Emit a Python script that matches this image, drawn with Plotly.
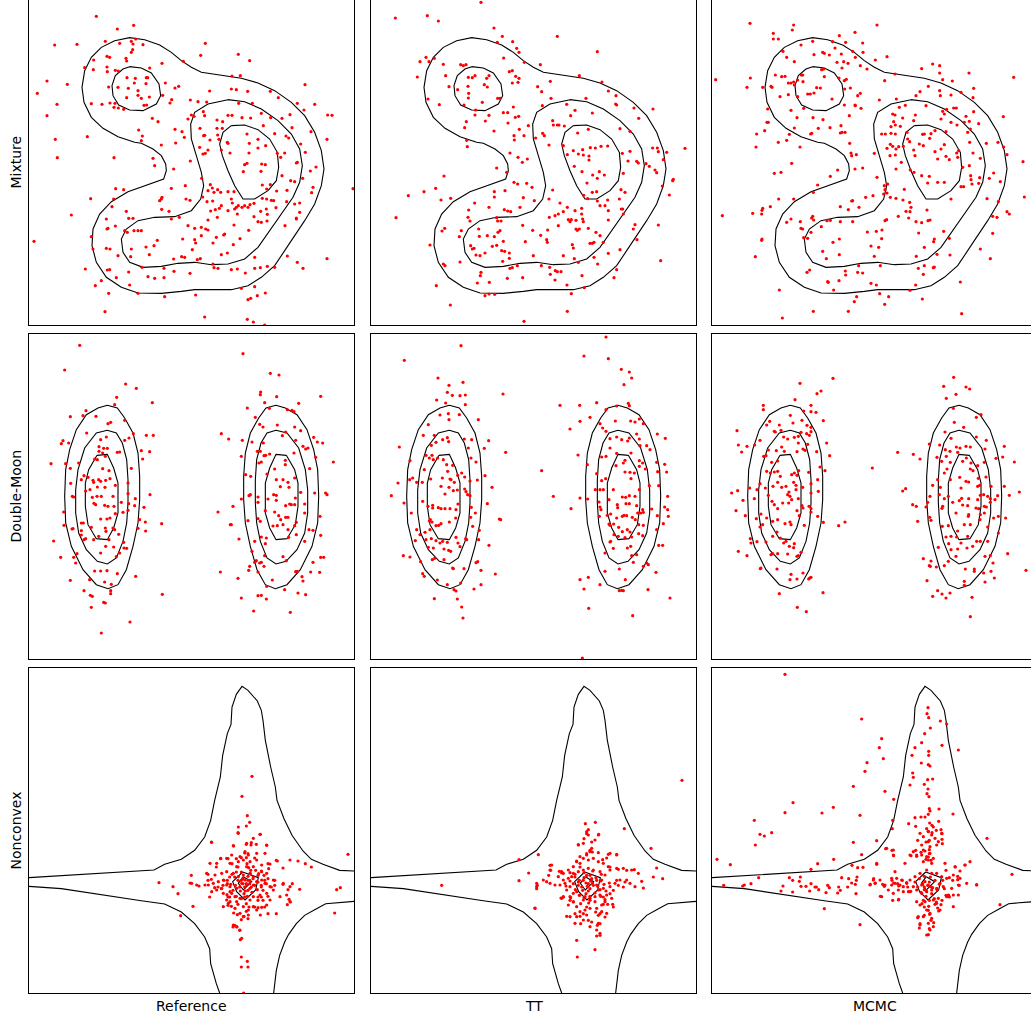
import plotly.graph_objects as go

# ---------------- data (panel units: 0..978, y downward) ----------------
ROW_LABELS = ["Mixture", "Double-Moon", "Nonconvex"]
COL_LABELS = ["Reference", "TT", "MCMC"]

# reference density contours
MIX_CONTOURS = [
    [(320,430),(270,413),(225,388),(190,355),(168,310),(162,265),(170,215),(190,175),(220,145),(260,125),(305,116),(350,122),(395,138),(430,160),(460,185),(490,205),(520,220),(580,228),(640,238),(690,252),(740,275),(790,310),(830,350),(860,400),(880,455),(888,510),(880,560),(860,615),(830,665),(780,740),(740,800),(700,835),(660,860),(610,872),(560,873),(500,872),(460,877),(400,883),(330,882),(280,865),(235,835),(205,790),(192,740),(195,690),(215,645),(250,608),(300,578),(350,560),(407,540),(415,515),(413,495),(400,470),(375,450),(340,433),(320,430)],
    [(600,302),(650,308),(700,330),(750,365),(790,405),(815,450),(823,500),(815,550),(795,595),(760,645),(720,705),(690,745),(650,780),(600,795),(550,797),(500,790),(450,793),(400,802),(345,805),(305,790),(285,760),(280,720),(295,690),(330,665),(380,655),(440,653),(490,635),(518,600),(527,560),(520,520),(505,470),(490,420),(488,375),(500,340),(540,315),(600,302)],
    [(610,380),(650,378),(690,392),(725,420),(748,460),(752,505),(745,545),(720,575),(680,600),(645,600),(620,560),(600,515),(583,470),(575,435),(585,400),(610,380)],
    [(305,203),(340,207),(370,222),(393,255),(398,290),(385,315),(345,335),(305,333),(272,318),(255,290),(252,260),(262,230),(285,210),(305,203)],
]
DM_CONTOURS = [
    [(238,217),(268,225),(290,255),(315,300),(330,360),(335,430),(335,500),(330,570),(315,640),(295,710),(270,755),(240,767),(205,755),(165,710),(130,640),(113,570),(110,490),(113,410),(125,350),(145,290),(175,245),(210,225),(238,217)],
    [(238,292),(265,300),(283,330),(296,380),(300,440),(300,510),(296,570),(285,625),(265,675),(238,693),(208,685),(175,650),(152,600),(143,540),(143,470),(150,410),(170,345),(205,300),(238,292)],
    [(207,367),(238,364),(257,405),(270,450),(270,540),(257,585),(238,620),(205,617),(180,575),(172,520),(172,450),(182,410),(207,367)],
    [(744,217),(714,225),(692,255),(667,300),(652,360),(647,430),(647,500),(652,570),(667,640),(687,710),(712,755),(742,767),(777,755),(817,710),(852,640),(869,570),(872,490),(869,410),(857,350),(837,290),(807,245),(772,225),(744,217)],
    [(744,292),(717,300),(699,330),(686,380),(682,440),(682,510),(686,570),(697,625),(717,675),(744,693),(774,685),(807,650),(830,600),(839,540),(839,470),(832,410),(812,345),(777,300),(744,292)],
    [(775,367),(744,364),(725,405),(712,450),(712,540),(725,585),(744,620),(777,617),(802,575),(810,520),(810,450),(800,410),(775,367)],
]
NC_CONTOURS = [
    [(3,632),(100,626),(200,620),(300,614),(378,609),(410,592),(460,577),(500,550),(530,510),(548,460),(560,400),(577,330),(584,265),(598,200),(609,172),(612,120),(625,82),(642,58),(660,70),(688,102),(700,130),(705,160),(712,220),(728,300),(742,360),(747,400),(768,455),(792,505),(825,552),(850,577),(885,592),(935,610),(978,612)],
    [(978,703),(935,706),(893,710),(860,728),(830,745),(805,770),(782,802),(770,825),(755,865),(745,910),(740,950),(737,978)],
    [(575,978),(565,950),(548,890),(545,845),(530,810),(500,770),(460,735),(410,711),(340,701),(280,692),(200,678),(100,665),(3,658)],
    [(644,615),(691,632),(683,669),(651,699),(626,674),(614,644),(644,615)],
    [(646,629),(671,644),(646,669),(631,649),(646,629)],
]

# samples
MIX_REF = [(205,52),(317,79),(268,90),(80,138),(147,136),(232,127),(275,133),(310,127),(323,120),(315,135),(345,137),(532,133),(518,169),(631,166),(665,185),(466,187),(314,152),(310,160),(294,178),(296,186),(237,172),(245,175),(197,183),(170,206),(196,212),(237,204),(238,218),(262,214),(271,216),(402,193),(365,207),(57,246),(118,256),(28,283),(87,316),(57,350),(190,314),(222,316),(246,312),(261,313),(258,325),(271,327),(287,331),(242,264),(270,265),(297,236),(322,238),(301,268),(319,252),(330,275),(330,289),(340,298),(355,236),(359,236),(354,254),(364,294),(296,296),(348,319),(356,318),(404,289),(412,252),(441,267),(452,262),(431,302),(426,312),(545,276),(610,270),(625,272),(659,277),(612,231),(637,230),(727,277),(751,296),(831,257),(860,316),(899,348),(912,349),(808,313),(828,333),(786,347),(762,358),(487,303),(510,308),(536,309),(632,313),(673,313),(700,343),(728,356),(490,348),(498,352),(480,360),(526,338),(530,350),(567,363),(584,368),(600,349),(612,349),(642,356),(668,357),(583,388),(567,388),(373,358),(390,368),(332,393),(343,411),(340,425),(441,391),(462,398),(443,432),(469,415),(516,388),(530,409),(546,423),(527,410),(569,408),(573,421),(598,430),(600,433),(657,405),(664,433),(690,421),(713,440),(706,380),(740,404),(782,417),(774,411),(792,386),(849,398),(897,421),(818,435),(832,460),(808,490),(805,492),(847,516),(864,504),(82,421),(178,413),(88,476),(258,476),(375,478),(380,500),(400,438),(437,510),(487,486),(515,445),(525,465),(532,463),(540,453),(580,453),(606,462),(663,462),(690,447),(748,463),(770,462),(758,475),(650,497),(657,493),(646,518),(701,495),(712,497),(699,517),(762,530),(788,545),(800,548),(824,538),(855,565),(851,581),(777,574),(746,576),(727,557),(716,570),(703,558),(975,569),(472,560),(521,538),(547,557),(553,567),(540,575),(558,580),(569,572),(578,580),(600,578),(618,578),(430,568),(263,569),(287,572),(188,599),(257,600),(400,600),(402,595),(395,605),(474,600),(486,604),(524,594),(537,608),(554,606),(610,600),(613,612),(631,620),(650,620),(666,617),(660,625),(678,613),(703,598),(716,600),(730,604),(737,605),(776,608),(800,615),(815,612),(130,648),(252,623),(295,637),(401,631),(423,637),(548,636),(562,632),(574,628),(580,620),(600,635),(620,630),(625,625),(642,625),(628,645),(698,637),(715,630),(744,626),(815,640),(805,657),(805,660),(235,660),(302,658),(315,658),(430,660),(454,655),(540,663),(568,655),(678,653),(718,646),(690,668),(700,670),(717,666),(771,680),(262,681),(237,690),(240,688),(290,695),(318,695),(330,695),(340,695),(298,700),(480,680),(500,688),(520,685),(533,690),(540,693),(618,678),(662,694),(190,713),(18,727),(388,724),(354,744),(310,750),(378,740),(464,720),(500,722),(503,732),(520,710),(555,732),(565,715),(590,705),(616,737),(636,719),(587,708),(493,752),(235,748),(246,750),(195,750),(270,770),(308,773),(364,767),(437,780),(461,773),(470,775),(508,782),(517,779),(580,767),(598,762),(680,775),(778,771),(897,779),(172,810),(238,813),(245,812),(302,819),(342,805),(408,808),(438,817),(486,823),(555,795),(558,806),(570,808),(610,812),(628,810),(652,822),(680,808),(697,806),(718,802),(740,805),(808,790),(825,808),(265,836),(305,858),(220,845),(202,860),(242,883),(330,883),(360,833),(380,838),(408,836),(410,893),(503,888),(640,868),(680,863),(712,882),(688,890),(660,902),(668,898),(231,938),(530,954),(658,961),(676,969),(710,978)]

MIX_TT = [(333,10),(76,57),(172,50),(205,66),(372,87),(397,112),(428,128),(440,148),(447,160),(382,130),(562,112),(682,158),(401,177),(150,188),(168,175),(177,188),(193,178),(220,196),(272,197),(280,200),(288,197),(142,234),(227,230),(237,263),(263,272),(295,235),(307,236),(315,230),(294,262),(296,283),(295,297),(350,238),(357,230),(343,257),(352,264),(337,310),(383,298),(390,298),(418,218),(427,215),(437,232),(447,238),(427,252),(444,250),(463,190),(511,197),(503,263),(515,278),(541,247),(543,298),(628,230),(696,249),(715,276),(738,290),(737,315),(174,300),(208,317),(282,318),(289,368),(284,386),(315,348),(317,333),(357,349),(346,366),(400,341),(413,341),(430,324),(436,355),(446,352),(414,372),(372,396),(432,410),(462,410),(433,423),(448,391),(475,380),(517,320),(497,417),(518,403),(523,410),(537,438),(548,365),(550,378),(562,378),(567,378),(583,381),(602,350),(590,316),(615,334),(648,298),(667,342),(655,391),(623,402),(740,318),(792,327),(806,358),(849,330),(750,389),(780,397),(580,440),(592,467),(610,455),(625,465),(638,452),(640,468),(657,471),(657,483),(661,446),(676,447),(693,442),(713,441),(757,463),(780,457),(774,486),(800,487),(805,492),(828,494),(838,502),(855,513),(860,521),(848,447),(862,447),(865,458),(890,460),(880,482),(945,448),(290,424),(292,443),(420,462),(444,475),(457,490),(472,480),(380,507),(410,520),(222,531),(613,502),(636,518),(668,528),(688,518),(703,528),(682,538),(651,552),(667,580),(680,578),(641,589),(653,599),(682,606),(713,603),(760,523),(753,572),(765,580),(748,600),(910,541),(908,545),(877,561),(898,588),(115,590),(162,578),(197,568),(213,603),(242,598),(432,550),(443,555),(470,553),(486,565),(548,573),(373,578),(405,575),(373,594),(460,596),(493,605),(537,600),(570,612),(296,633),(314,612),(357,625),(403,632),(413,636),(422,638),(450,625),(580,638),(565,645),(592,625),(615,635),(635,628),(690,620),(705,620),(715,635),(754,630),(758,630),(78,656),(294,655),(300,666),(380,656),(383,666),(393,666),(538,655),(555,650),(595,662),(604,662),(618,664),(635,645),(640,668),(638,660),(715,663),(760,645),(216,696),(224,688),(274,695),(268,713),(326,690),(328,712),(352,710),(373,713),(390,695),(384,700),(458,679),(488,694),(512,709),(533,693),(565,680),(600,668),(618,690),(622,694),(628,690),(655,688),(678,700),(690,710),(795,677),(790,690),(865,678),(180,738),(302,740),(307,750),(312,748),(318,768),(330,770),(345,762),(367,742),(380,739),(400,727),(395,755),(404,757),(418,762),(466,728),(530,722),(532,730),(607,737),(610,747),(660,733),(667,733),(672,730),(700,730),(715,763),(750,752),(801,722),(270,789),(225,800),(220,795),(398,787),(418,778),(420,808),(427,806),(442,800),(490,770),(514,800),(539,805),(556,815),(562,818),(573,818),(580,770),(613,779),(625,790),(672,775),(683,795),(740,812),(732,836),(872,785),(333,820),(331,830),(322,852),(358,850),(345,890),(357,885),(374,886),(412,838),(458,836),(541,826),(555,843),(591,858),(604,884),(636,830),(643,866),(199,860),(241,918),(592,937),(462,967)]

MIX_MCMC = [(117,73),(248,78),(244,93),(187,103),(187,120),(202,120),(432,100),(385,110),(498,78),(305,127),(365,128),(404,130),(455,132),(456,160),(425,157),(372,147),(391,165),(398,188),(411,193),(393,207),(433,175),(448,200),(468,210),(528,173),(216,157),(227,175),(250,188),(270,138),(309,167),(335,160),(340,163),(355,168),(378,190),(338,210),(275,228),(332,212),(340,233),(384,237),(400,245),(406,241),(14,242),(118,237),(193,228),(212,233),(222,232),(232,252),(240,252),(248,249),(250,258),(260,243),(276,248),(271,228),(108,265),(155,265),(180,262),(183,265),(207,293),(232,287),(260,293),(290,285),(298,285),(309,282),(317,266),(328,267),(363,300),(401,270),(418,267),(440,290),(448,283),(400,318),(432,318),(433,320),(450,328),(415,350),(336,362),(306,356),(278,328),(240,334),(258,356),(170,330),(172,370),(168,370),(250,387),(302,403),(299,405),(322,388),(357,386),(390,380),(393,400),(402,400),(388,402),(137,405),(161,395),(202,430),(227,424),(235,406),(267,444),(135,444),(416,433),(420,462),(422,470),(436,467),(455,507),(432,510),(380,513),(358,532),(242,493),(190,523),(210,520),(320,558),(307,580),(203,600),(248,600),(305,652),(302,657),(308,663),(155,628),(153,634),(178,623),(125,643),(152,645),(34,650),(240,660),(227,670),(268,668),(270,688),(275,690),(300,700),(278,716),(290,718),(153,720),(152,724),(133,773),(205,873),(214,957),(307,937),(412,937),(430,908),(437,893),(506,884),(496,858),(480,853),(521,916),(533,893),(493,183),(521,245),(552,225),(505,303),(556,300),(583,319),(565,325),(545,345),(552,348),(575,357),(548,368),(540,383),(553,378),(568,382),(512,405),(523,405),(540,403),(553,405),(490,463),(528,448),(538,436),(545,442),(555,450),(563,443),(537,470),(553,468),(571,490),(498,535),(520,560),(530,555),(522,572),(518,585),(528,582),(538,595),(555,598),(576,603),(580,571),(596,610),(600,625),(585,637),(597,638),(562,652),(593,657),(615,668),(632,671),(651,665),(657,663),(648,633),(464,595),(486,590),(425,605),(422,606),(412,632),(388,623),(444,625),(331,683),(348,665),(358,664),(388,668),(425,668),(385,720),(366,730),(469,699),(496,697),(513,693),(512,719),(522,665),(527,662),(480,741),(503,745),(335,757),(346,779),(385,767),(490,772),(288,820),(296,813),(350,848),(352,850),(368,873),(384,845),(403,816),(404,828),(443,800),(440,820),(455,822),(508,800),(616,772),(622,808),(640,800),(637,826),(670,804),(667,806),(678,766),(640,745),(623,702),(670,720),(668,728),(698,697),(715,718),(717,768),(614,858),(597,874),(634,900),(748,849),(752,944),(808,750),(838,779),(845,703),(862,608),(858,655),(845,652),(888,638),(895,645),(940,594),(828,599),(803,553),(835,538),(848,522),(868,548),(779,530),(780,542),(783,555),(750,563),(758,563),(720,600),(700,550),(680,550),(650,552),(632,530),(655,532),(598,513),(609,520),(612,470),(608,453),(596,428),(590,420),(577,442),(588,400),(608,365),(613,348),(635,406),(640,405),(660,404),(637,440),(625,435),(656,418),(672,395),(705,398),(700,437),(690,450),(672,458),(680,480),(705,472),(715,482),(743,455),(737,462),(740,475),(755,505),(775,500),(776,430),(786,462),(778,390),(770,400),(760,370),(775,367),(803,374),(788,338),(765,352),(738,378),(720,370),(707,331),(695,337),(690,360),(700,345),(728,327),(736,327),(750,280),(720,288),(688,290),(686,275),(652,262),(627,278),(615,290),(632,209),(665,195),(686,200),(686,222),(695,242),(724,246),(774,222),(788,268),(786,296),(877,353),(908,235),(936,488),(888,467),(878,444),(861,430),(826,433),(808,478),(806,536),(645,320),(555,510)]

DM_REF = [(155,37),(110,111),(293,153),(325,166),(373,209),(266,193),(260,215),(127,251),(165,248),(174,233),(204,250),(240,272),(248,268),(290,262),(176,300),(105,323),(100,332),(122,330),(218,320),(235,312),(290,322),(303,315),(316,302),(355,307),(376,307),(213,341),(213,355),(227,346),(238,346),(224,360),(268,358),(275,357),(340,353),(365,356),(344,378),(69,392),(113,392),(127,406),(152,390),(200,378),(208,380),(232,370),(224,407),(243,413),(310,406),(168,428),(160,440),(180,433),(195,442),(197,448),(212,440),(218,445),(233,442),(246,437),(231,463),(208,462),(186,470),(300,450),(262,457),(128,451),(133,490),(137,492),(173,474),(193,493),(207,490),(220,490),(255,490),(300,482),(322,497),(366,485),(348,523),(320,518),(302,512),(280,508),(198,511),(203,515),(230,517),(240,520),(258,520),(262,542),(285,538),(300,532),(218,558),(237,558),(246,555),(107,537),(108,577),(135,587),(160,570),(166,570),(132,588),(190,583),(232,585),(234,595),(255,585),(260,590),(335,560),(330,586),(352,567),(353,594),(401,572),(77,624),(160,593),(160,606),(173,617),(168,620),(197,620),(212,610),(272,604),(287,628),(296,646),(288,645),(257,642),(243,620),(233,640),(218,660),(265,671),(98,673),(137,673),(147,662),(143,690),(275,660),(200,714),(218,714),(237,713),(268,722),(323,730),(127,742),(185,740),(230,747),(250,754),(168,773),(187,787),(193,790),(248,773),(248,782),(227,808),(232,810),(190,823),(403,784),(306,867),(220,900),
          (645,62),(727,121),(753,126),(698,177),(697,185),(746,191),(710,209),(658,225),(724,226),(778,230),(792,232),(812,211),(878,190),(798,236),(682,253),(695,274),(705,282),(748,276),(773,297),(800,282),(818,293),(857,313),(868,327),(884,330),(580,302),(602,318),(643,322),(672,327),(706,330),(763,308),(803,322),(825,340),(833,348),(840,345),(640,370),(688,355),(697,355),(708,368),(713,367),(725,363),(772,382),(772,395),(798,360),(845,407),(863,373),(916,387),(653,425),(668,430),(693,390),(700,387),(717,423),(740,408),(745,440),(765,440),(757,461),(780,448),(783,463),(800,435),(802,495),(818,478),(860,480),(893,480),(897,485),(663,488),(667,485),(640,498),(690,492),(690,508),(720,498),(737,485),(745,487),(745,502),(773,518),(785,513),(790,515),(800,515),(615,520),(570,537),(830,540),(830,513),(876,550),(690,557),(697,565),(712,533),(740,537),(752,548),(758,560),(773,553),(780,553),(805,568),(800,578),(607,575),(610,575),(660,563),(700,612),(715,615),(735,579),(748,578),(765,575),(780,590),(805,605),(843,590),(855,592),(878,607),(633,618),(680,625),(712,632),(782,613),(830,625),(672,655),(685,683),(695,690),(700,688),(680,688),(665,700),(708,700),(710,668),(765,671),(775,683),(855,688),(878,673),(887,673),(577,717),(662,712),(690,717),(803,716),(808,715),(822,731),(848,717),(875,718),(630,736),(733,741),(825,744),(770,770),(716,760),(640,795),(690,788),(700,787),(715,798),(810,780),(833,785),(677,834),(787,838)]

DM_TT = [(273,38),(103,82),(204,135),(279,148),(237,157),(232,178),(247,187),(270,188),(286,186),(399,183),(200,201),(227,210),(286,215),(210,246),(235,242),(237,260),(268,245),(325,260),(175,275),(160,307),(193,307),(218,320),(232,314),(236,326),(283,318),(305,320),(295,345),(343,346),(356,323),(88,342),(184,337),(198,328),(168,367),(178,375),(186,367),(190,380),(203,375),(220,380),(230,395),(248,397),(303,375),(318,387),(407,358),(120,383),(163,410),(128,435),(119,440),(140,448),(157,448),(182,438),(217,435),(233,415),(240,438),(243,440),(253,448),(263,427),(275,420),(284,432),(300,444),(322,441),(345,428),(366,463),(84,450),(64,488),(213,460),(237,463),(225,483),(250,473),(262,471),(284,468),(288,476),(293,485),(300,488),(158,505),(102,510),(124,540),(174,520),(188,517),(188,525),(205,524),(213,527),(225,527),(240,527),(258,530),(264,513),(304,523),(316,540),(352,512),(181,560),(178,564),(186,567),(198,578),(206,577),(213,572),(238,567),(257,555),(302,553),(308,580),(392,560),(388,558),(140,590),(150,605),(165,598),(180,590),(168,620),(184,617),(198,623),(210,630),(218,625),(232,628),(258,613),(264,630),(287,617),(290,620),(328,592),(326,620),(136,623),(357,637),(175,643),(190,645),(222,648),(236,652),(242,655),(270,641),(100,668),(120,672),(152,686),(187,680),(194,676),(222,680),(248,705),(250,707),(282,707),(318,689),(323,686),(333,712),(376,723),(158,722),(163,730),(202,741),(232,755),(252,770),(258,774),(272,750),(312,768),(333,755),(193,797),(262,798),(275,822),(279,855),
         (708,12),(642,69),(715,77),(754,109),(778,117),(785,135),(762,155),(570,217),(629,217),(680,209),(708,230),(740,219),(775,211),(778,218),(600,288),(630,265),(660,253),(690,272),(698,285),(708,295),(736,264),(782,264),(795,267),(808,258),(820,272),(862,303),(886,316),(720,317),(740,312),(755,320),(773,324),(778,315),(800,303),(808,318),(810,338),(830,338),(840,350),(624,366),(695,372),(708,370),(720,345),(740,361),(765,382),(783,360),(808,383),(826,408),(860,388),(884,394),(890,417),(652,395),(680,422),(695,443),(707,437),(738,398),(760,390),(765,417),(780,418),(783,437),(793,420),(808,400),(818,390),(863,416),(515,413),(550,490),(630,495),(653,498),(676,470),(690,470),(700,470),(730,470),(757,492),(767,493),(778,488),(795,490),(808,470),(838,458),(866,458),(893,490),(603,527),(687,507),(690,522),(693,530),(717,500),(742,515),(743,524),(768,512),(778,512),(800,518),(803,540),(812,540),(820,538),(818,530),(845,528),(862,548),(884,522),(893,530),(895,550),(880,572),(688,550),(712,547),(722,543),(740,555),(757,550),(762,547),(770,548),(787,553),(796,560),(806,575),(820,577),(717,573),(720,577),(731,573),(746,583),(757,596),(772,590),(780,597),(732,605),(745,610),(722,625),(720,627),(765,614),(785,612),(806,602),(818,608),(866,637),(878,637),(860,590),(782,640),(772,645),(705,660),(730,646),(785,668),(800,665),(790,688),(630,740),(655,733),(642,768),(690,755),(705,715),(748,708),(766,740),(748,773),(755,772),(760,773),(830,690),(835,695),(820,700),(858,718),(834,770),(900,795),(656,826),(788,848),(637,975)]

DM_MCMC = [(366,136),(267,151),(330,174),(318,182),(252,200),(157,217),(157,230),(300,217),(300,236),(315,238),(278,234),(238,247),(273,262),(246,270),(288,277),(337,263),(176,265),(167,276),(190,295),(205,276),(210,292),(193,297),(300,283),(300,296),(78,293),(82,336),(92,357),(108,340),(147,322),(131,336),(172,351),(158,370),(165,368),(182,388),(200,384),(196,353),(212,342),(220,355),(218,312),(230,318),(270,298),(250,313),(262,310),(287,302),(295,307),(262,330),(276,348),(282,352),(258,356),(290,334),(317,356),(347,330),(356,368),(327,402),(342,413),(167,415),(178,420),(190,417),(200,415),(208,430),(242,425),(250,420),(258,427),(263,413),(293,418),(320,440),(300,452),(147,452),(163,465),(200,448),(186,460),(212,463),(225,460),(248,448),(255,457),(234,477),(237,490),(230,485),(255,470),(275,463),(300,480),(322,475),(62,480),(80,473),(96,502),(116,465),(130,497),(138,470),(172,487),(183,505),(190,515),(200,527),(215,510),(233,510),(242,500),(262,497),(273,518),(276,525),(258,533),(265,548),(294,520),(300,527),(300,537),(320,550),(75,533),(103,548),(136,557),(150,543),(167,555),(185,565),(200,560),(237,567),(240,575),(222,572),(280,577),(337,568),(383,578),(402,567),(147,582),(155,575),(118,617),(138,626),(120,630),(165,627),(185,610),(198,597),(208,615),(218,630),(225,625),(235,640),(250,632),(248,644),(200,662),(230,663),(262,668),(258,670),(270,658),(82,655),(108,668),(180,665),(185,662),(150,705),(148,707),(198,708),(240,724),(237,740),(258,738),(276,720),(296,735),(300,733),(293,738),(336,779),(205,782),(259,823),(286,836),
           (728,133),(698,160),(765,162),(776,168),(735,184),(706,196),(727,226),(796,253),(810,245),(730,268),(758,283),(702,297),(686,336),(720,316),(736,342),(747,345),(765,340),(778,342),(796,312),(826,322),(822,348),(880,340),(655,333),(560,358),(607,364),(627,378),(678,373),(703,350),(717,355),(706,370),(740,358),(718,388),(708,408),(700,420),(692,385),(755,385),(766,375),(780,390),(778,408),(786,413),(800,398),(820,388),(855,376),(875,372),(910,387),(484,405),(680,440),(665,457),(688,463),(718,440),(746,433),(750,465),(765,445),(773,447),(802,436),(800,460),(806,457),(825,432),(840,460),(880,460),(925,477),(575,474),(584,467),(657,490),(650,508),(685,485),(700,497),(712,490),(745,503),(752,496),(773,497),(800,500),(808,487),(818,485),(830,490),(838,497),(860,488),(895,487),(605,515),(616,520),(645,522),(695,520),(693,526),(725,508),(755,516),(770,518),(795,525),(803,527),(820,520),(826,522),(838,508),(852,500),(620,565),(656,553),(660,562),(735,540),(772,550),(773,545),(808,545),(820,540),(848,555),(862,550),(884,555),(694,580),(712,578),(740,594),(760,575),(778,575),(807,560),(830,582),(862,600),(705,612),(720,610),(737,612),(750,630),(770,610),(797,625),(808,625),(830,625),(682,643),(713,632),(720,650),(740,648),(768,645),(785,640),(822,670),(838,668),(890,662),(637,677),(660,684),(658,700),(655,698),(676,702),(700,698),(712,685),(735,670),(763,708),(790,708),(818,720),(790,715),(846,690),(840,715),(850,735),(822,747),(945,712),(648,743),(680,773),(693,783),(705,795),(717,780),(760,745),(760,757),(783,793),(665,790),(778,851)]

NC_REF = [(672,328),(642,388),(658,446),(665,466),(655,477),(631,480),(630,497),(697,502),(670,527),(655,532),(685,532),(550,525),(716,535),(660,560),(650,558),(640,572),(617,537),(600,575),(578,575),(625,575),(655,572),(680,573),(612,590),(565,600),(630,600),(657,590),(662,602),(720,590),(745,580),(722,605),(765,603),(810,582),(832,590),(850,600),(960,562),(490,625),(540,622),(550,637),(540,640),(513,657),(486,648),(393,647),(435,659),(450,680),(545,690),(495,718),(458,746),(920,738),(926,668),(937,662),(815,667),(793,650),(780,668),(765,652),(740,640),(730,660),(720,688),(700,690),(690,700),(783,697),(787,705),(778,713),(745,740),(720,740),(697,744),(710,720),(690,722),(680,720),(663,720),(655,733),(648,748),(660,755),(628,743),(617,738),(640,758),(620,775),(615,780),(627,780),(635,790),(637,818),(640,870),(658,883),(640,900),(660,900),(647,978),(600,715),(610,718),(605,690),(597,683),(580,665),(570,660),(560,662),(598,650),(588,640),(605,630),(625,615),(667,620),(683,610),(708,625),(710,640),(720,635),(700,660),(740,655),(690,625),(700,612),
          (631,499),(676,514),(696,502),(656,529),(669,534),(716,534),(551,526),(616,536),(651,554),(661,564),(636,569),(646,579),(631,584),(666,584),(686,579),(611,564),(596,574),(578,574),(606,589),(626,599),(656,599),(676,599),(701,594),(726,591),(748,582),(786,579),(566,589),(546,589),(536,619),(561,624),(581,619),(596,614),(616,619),(586,639),(571,644),(556,649),(541,654),(531,654),(596,654),(606,659),(581,664),(566,669),(551,674),(586,679),(606,674),(611,679),(626,664),(641,649),(651,639),(656,654),(666,664),(676,654),(686,644),(701,639),(711,649),(726,659),(736,639),(716,619),(701,614),(666,619),(646,624),(736,669),(716,679),(696,684),(676,689),(666,699),(636,694),(626,704),(601,709),(596,699),(586,719),(621,724),(646,719),(661,729),(676,719),(686,729),(701,721),(716,714),(726,699),(756,689),(776,684),(786,704),(766,649),(786,659),(636,739),(646,749),(661,744),(616,774),(626,779),(636,789),(641,814),(606,704),(621,689),(631,629),(676,629),(711,559),(686,559),(491,649),(506,654),
          (640,640),(655,650),(660,670),(648,680),(670,660),(635,660),(665,640),(650,690),
          (620,630),(630,640),(645,635),(660,628),(675,635),(690,645),(700,655),(688,668),(672,676),(658,688),(640,695),(625,688),(615,670),(608,652),(622,655),(650,660),(665,650),(680,655),(637,672),(652,672),(690,690),(705,670),(598,640),(612,622),(640,615),(668,610),(692,620),(715,650),(705,700),(655,710),(630,712),(600,690),(585,655),(660,640),(645,650)]

NC_TT = [(936,340),(646,470),(676,466),(655,488),(650,500),(686,502),(642,515),(665,525),(625,533),(763,485),(843,544),(660,550),(667,555),(650,560),(685,557),(715,562),(740,562),(698,578),(710,573),(505,563),(447,578),(540,595),(542,610),(476,618),(536,625),(568,613),(575,618),(600,617),(620,582),(630,600),(720,600),(745,607),(770,610),(793,608),(860,603),(850,630),(878,635),(815,643),(820,663),(765,645),(760,660),(745,655),(740,640),(447,641),(215,655),(502,655),(500,665),(573,693),(580,690),(600,700),(610,705),(495,723),(590,748),(615,740),(630,748),(640,740),(632,770),(655,760),(665,765),(690,770),(682,775),(685,745),(705,750),(677,735),(690,740),(700,712),(713,712),(728,712),(730,720),(620,820),(675,848),(622,870),(680,807),(690,805),(650,720),(660,700),(700,690),(720,680),(730,670),
         (650,494),(655,504),(685,504),(675,519),(640,529),(625,534),(665,544),(660,554),(650,564),(720,559),(740,564),(630,569),(640,574),(655,579),(670,574),(685,584),(700,589),(715,599),(720,609),(630,589),(620,584),(610,599),(595,609),(580,619),(575,614),(545,594),(540,609),(565,629),(580,639),(585,649),(570,654),(555,654),(540,649),(530,644),(500,659),(500,649),(520,639),(595,634),(605,629),(610,619),(625,614),(640,609),(655,604),(670,609),(690,614),(705,624),(695,639),(680,654),(685,669),(700,664),(720,659),(735,649),(750,639),(770,639),(780,649),(795,659),(805,619),(785,609),(760,604),(740,604),(600,659),(590,669),(580,689),(600,689),(610,679),(620,674),(630,684),(645,689),(660,694),(675,689),(690,684),(710,684),(725,694),(705,704),(695,714),(675,704),(640,699),(610,704),(595,714),(620,719),(630,734),(645,729),(660,724),(680,724),(695,734),(710,739),(650,744),(640,759),(620,749),(600,749),(615,769),(685,769),(660,779),(680,789),(690,799),(495,724),(575,694),
         (640,640),(655,650),(660,665),(648,680),(670,655),(635,660),(665,635),(650,625),(680,640),(625,645),
         (615,630),(628,640),(642,632),(660,625),(678,632),(692,642),(702,652),(690,668),(675,678),(660,688),(642,692),(628,685),(616,668),(610,650),(625,655),(652,658),(668,648),(683,658),(638,670),(655,672),(692,688),(708,672),(600,642),(615,622),(642,617),(668,612),(694,622),(718,648),(705,698),(656,708),(632,710),(602,692),(588,657),(662,642),(648,648)]

NC_MCMC = [(222,22),(452,156),(651,122),(648,140),(653,152),(658,183),(688,162),(707,171),(641,200),(632,227),(612,242),(653,253),(512,215),(505,242),(517,275),(468,287),(462,313),(603,265),(653,265),(693,235),(742,249),(631,288),(652,293),(657,297),(605,318),(607,331),(665,336),(650,338),(597,354),(640,352),(651,366),(648,380),(654,389),(427,358),(522,373),(548,397),(246,407),(222,437),(333,438),(367,421),(447,445),(130,460),(147,502),(160,507),(182,497),(133,534),(427,526),(497,521),(524,545),(543,550),(548,566),(544,485),(545,460),(593,470),(614,478),(612,452),(630,450),(642,450),(655,425),(657,432),(652,442),(684,426),(726,441),(656,468),(663,475),(667,480),(683,463),(676,490),(690,488),(693,500),(693,517),(694,530),(647,485),(652,493),(663,497),(655,520),(645,525),(620,520),(614,550),(630,556),(642,552),(655,548),(655,560),(652,570),(645,577),(660,580),(617,568),(600,566),(828,514),(18,577),(58,593),(368,577),(452,563),(320,590),(300,607),(423,595),(440,602),(456,601),(497,592),(762,594),(733,600),(705,610),(747,612),(903,622),(740,628),(725,640),(715,632),(745,655),(797,653),(740,638),(143,632),(120,650),(100,654),(38,655),(95,657),(235,632),(245,640),(268,630),(265,643),(270,658),(285,658),(300,650),(316,660),(323,668),(312,660),(350,655),(355,662),(383,660),(392,632),(413,635),(422,648),(433,652),(436,640),(410,660),(388,670),(216,657),(210,672),(245,675),(296,672),(345,677),(380,678),(435,680),(438,630),(478,652),(488,635),(493,648),(515,652),(520,658),(508,688),(543,640),(548,648),(560,650),(563,657),(574,640),(587,647),(590,660),(599,673),(563,697),(545,700),(340,725),(447,773),(705,685),(713,685),(715,690),(693,700),(690,713),(676,705),(672,712),(680,723),(683,732),(653,718),(652,730),(656,742),(640,745),(620,752),(627,770),(625,783),(633,710),(640,720),(637,700),(660,760),(668,767),(655,785),(652,803),(867,713),
           (627,499),(637,509),(652,494),(662,504),(672,514),(692,499),(682,524),(652,524),(657,539),(677,534),(632,534),(637,549),(617,564),(607,554),(597,564),(632,564),(647,569),(657,559),(667,574),(652,579),(637,584),(527,544),(547,549),(547,564),(497,589),(582,589),(662,589),(702,589),(732,599),(762,594),(777,584),(507,639),(487,639),(492,649),(477,654),(522,654),(552,614),(542,634),(557,634),(572,639),(552,649),(542,654),(567,654),(577,659),(587,649),(597,639),(612,629),(627,619),(647,609),(662,619),(677,619),(692,629),(707,634),(687,649),(697,659),(677,664),(662,669),(647,674),(632,679),(617,669),(607,659),(597,674),(577,674),(562,669),(547,679),(532,669),(512,689),(562,699),(592,674),(727,624),(747,634),(767,649),(742,654),(722,664),(712,684),(727,684),(742,684),(707,689),(682,694),(667,699),(642,704),(627,714),(617,704),(677,709),(647,729),(657,739),(662,754),(637,749),(622,749),(627,774),(652,769),(657,789),(647,804),(667,779),(687,729),(727,719),(797,654),(632,654),(642,644),(652,654),
           (640,660),(655,645),(645,670),(660,660),(635,650),
           (625,635),(640,628),(658,630),(672,640),(685,652),(678,668),(662,680),(645,688),(630,676),(620,660),(650,655),(665,662),(640,668),(695,640),(700,665),(612,645),(655,700),(670,695)]

SAMPLES = [[MIX_REF, MIX_TT, MIX_MCMC],
           [DM_REF, DM_TT, DM_MCMC],
           [NC_REF, NC_TT, NC_MCMC]]
CONTOURS = [MIX_CONTOURS, DM_CONTOURS, NC_CONTOURS]

# ---------------- layout (pixels) ----------------
W, H = 1031, 1019
ML, MB = 29, 26
PW, PH = W - ML, H - MB          # plot area 1002 x 993
COL_PX = [(29, 354), (371, 696), (712, 1031)]
ROW_PX = [(0, 325), (334, 659), (668, 993)]
X_RANGES = [[3, 978], [3, 978], [3, 960]]
Y_RANGE = [978, 3]

def px2fx(p):
    return (p - ML) / PW

def py2fy(p):
    return (PH - p) / PH

fig = go.Figure()
layout = {}
for r in range(3):
    for c in range(3):
        n = r * 3 + c + 1
        sfx = "" if n == 1 else str(n)
        xa, ya = "x" + sfx, "y" + sfx
        for path in CONTOURS[r]:
            xs, ys = zip(*path)
            fig.add_trace(go.Scatter(x=xs, y=ys, mode="lines",
                                     line=dict(color="black", width=1.1),
                                     xaxis=xa, yaxis=ya, hoverinfo="skip",
                                     showlegend=False))
        xs, ys = zip(*SAMPLES[r][c])
        fig.add_trace(go.Scatter(x=xs, y=ys, mode="markers",
                                 marker=dict(color="#ff0000", size=3.2, line=dict(width=0)),
                                 xaxis=xa, yaxis=ya, hoverinfo="skip",
                                 showlegend=False))
        x0, x1 = COL_PX[c]
        y0, y1 = ROW_PX[r]
        layout["xaxis" + sfx] = dict(domain=[px2fx(x0), min(1, px2fx(x1))],
                                     range=X_RANGES[c], anchor=ya,
                                     showticklabels=False, ticks="", showgrid=False,
                                     zeroline=False, showline=True, linecolor="black",
                                     linewidth=1, mirror=True, fixedrange=True)
        layout["yaxis" + sfx] = dict(domain=[max(0, py2fy(y1)), min(1, py2fy(y0))],
                                     range=Y_RANGE, anchor=xa,
                                     showticklabels=False, ticks="", showgrid=False,
                                     zeroline=False, showline=True, linecolor="black",
                                     linewidth=1, mirror=(c < 2), fixedrange=True)

annotations = []
for r, lab in enumerate(ROW_LABELS):
    yc = (ROW_PX[r][0] + ROW_PX[r][1]) / 2
    annotations.append(dict(text=lab, xref="paper", yref="paper",
                            x=px2fx(15), y=py2fy(yc), textangle=-90,
                            xanchor="center", yanchor="middle", showarrow=False,
                            font=dict(size=14, color="black")))
for c, lab in enumerate(COL_LABELS):
    xc = (COL_PX[c][0] + COL_PX[c][0] + 325) / 2
    annotations.append(dict(text=lab, xref="paper", yref="paper",
                            x=px2fx(xc), y=py2fy(1006),
                            xanchor="center", yanchor="middle", showarrow=False,
                            font=dict(size=14, color="black")))

fig.update_layout(width=W, height=H,
                  margin=dict(l=ML, r=0, t=0, b=MB, pad=0),
                  paper_bgcolor="white", plot_bgcolor="white",
                  font=dict(family="DejaVu Sans", size=14, color="black"),
                  annotations=annotations, showlegend=False, **layout)

fig.write_html("out.html", config={"displayModeBar": False},
               post_script="document.body.style.margin='0px';document.body.style.overflow='hidden';")
